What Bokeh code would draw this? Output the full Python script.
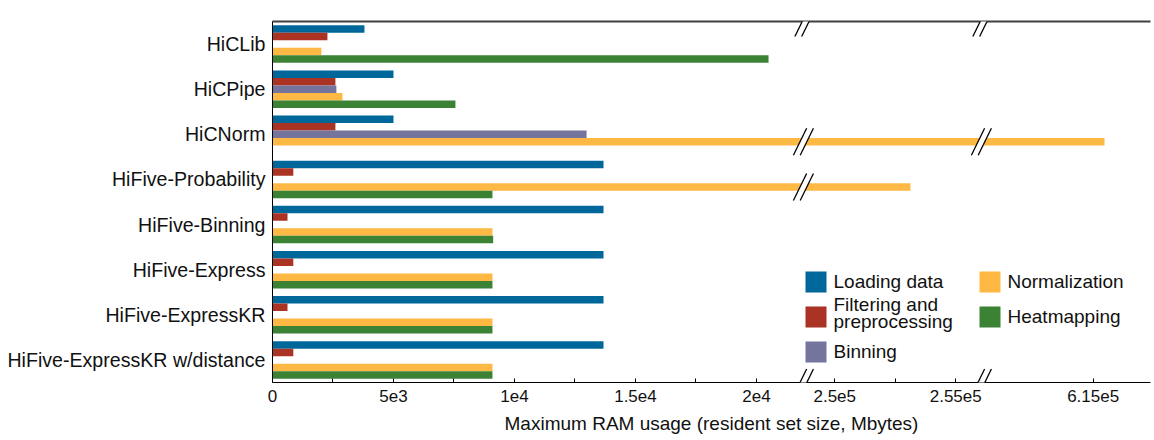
from bokeh.plotting import figure
from bokeh.models import (FactorRange, Range1d, LinearAxis, FixedTicker, CustomJSTransform,
                          PolyAnnotation, Arrow, ColumnDataSource)
from bokeh.transform import dodge, transform
from bokeh.core.properties import value
from bokeh.embed import file_html
from bokeh.resources import INLINE

# ---------------------------------------------------------------- data
categories = ["HiCLib", "HiCPipe", "HiCNorm", "HiFive-Probability", "HiFive-Binning",
              "HiFive-Express", "HiFive-ExpressKR", "HiFive-ExpressKR w/distance"]

series_names = ["Loading data", "Filtering and\npreprocessing", "Binning",
                "Normalization", "Heatmapping"]
series_colors = ["#00679a", "#aa3324", "#74749c", "#fdb944", "#3b8234"]

# maximum resident set size per step, Mbytes (None = step not run)
loading = [3800, 5000, 5000, 13680, 13680, 13680, 13680, 13680]
filtering = [2270, 2600, 2600, 860, 620, 860, 620, 860]
binning = [None, 2640, 12980, None, None, None, None, None]
normalization = [2020, 2890, 615470, 253130, 9090, 9090, 9090, 9090]
heatmapping = [20500, 7560, None, 9090, 9120, 9090, 9090, 9090]
series_values = [loading, filtering, binning, normalization, heatmapping]

# broken x axis: value intervals that are shown next to each other
segments = [(0, 21900), (248665, 256020), (610340, 617370)]

tick_values = [0, 2500, 5000, 7500, 10000, 12500, 15000, 17500, 20000,
               250000, 252500, 255000, 615000]
tick_labels = ["0", "", "5e3", "", "1e4", "", "1.5e4", "", "2e4",
               "2.5e5", "", "2.55e5", "6.15e5"]

# ---------------------------------------------------------------- layout
FONT = "Liberation Sans"
W, H = 1154, 440
LEFT, RIGHT, TOP, BOTTOM = 272, 4, 21, 58
FRAME_W = W - LEFT - RIGHT
FRAME_H = H - TOP - BOTTOM


def to_axis(v):
    """Position of a value on the compressed (broken) axis."""
    acc = 0
    for k, (s, e) in enumerate(segments):
        if v <= e or k == len(segments) - 1:
            return acc + (v - s)
        acc += e - s


axis_end = to_axis(segments[-1][1])
break_positions = []
acc = 0
for s, e in segments[:-1]:
    acc += e - s
    break_positions.append(acc)

broken = CustomJSTransform(
    args=dict(starts=[s for s, _ in segments], ends=[e for _, e in segments]),
    func="""
        let acc = 0
        for (let k = 0; k < starts.length; k++) {
            if (x <= ends[k] || k == starts.length - 1) return acc + (x - starts[k])
            acc += ends[k] - starts[k]
        }
    """,
    v_func="""
        const out = new Array(xs.length)
        for (let i = 0; i < xs.length; i++) {
            const v = xs[i]
            let acc = 0
            for (let k = 0; k < starts.length; k++) {
                if (v <= ends[k] || k == starts.length - 1) { out[i] = acc + (v - starts[k]); break }
                acc += ends[k] - starts[k]
            }
        }
        return out
    """)

p = figure(width=W, height=H, output_backend="svg", toolbar_location=None,
           x_range=Range1d(0, axis_end), y_range=FactorRange(factors=categories[::-1]),
           min_border_left=LEFT, min_border_right=RIGHT,
           min_border_top=TOP, min_border_bottom=BOTTOM)
p.outline_line_color = None
p.xgrid.grid_line_color = None
p.ygrid.grid_line_color = None
p.background_fill_color = "white"
p.border_fill_color = "white"

# helpers to place decorations in pixel terms
KX = axis_end / FRAME_W
KY = len(categories) / FRAME_H


def px_x(px):
    return (px - LEFT) * KX


def px_y(py):
    return (H - BOTTOM - py) * KY


# ---------------------------------------------------------------- bars
n_series = len(series_names)
slot = 1.0 / (n_series + 1)
for j, (vals, color) in enumerate(zip(series_values, series_colors)):
    cats = [c for c, v in zip(categories, vals) if v is not None]
    vs = [v for v in vals if v is not None]
    src = ColumnDataSource(dict(cat=cats, value=vs))
    off = ((n_series - 1) / 2 - j) * slot
    p.hbar(y=dodge("cat", off, range=p.y_range), left=0,
           right=transform("value", broken), height=slot,
           source=src, fill_color=color, line_color=None)

# ---------------------------------------------------------------- axes
xa = p.xaxis[0]
xa.ticker = FixedTicker(ticks=[to_axis(t) for t in tick_values])
xa.major_label_overrides = {to_axis(t): lab for t, lab in zip(tick_values, tick_labels)}
xa.minor_tick_line_color = None
xa.major_tick_in = 4
xa.major_tick_out = 0
xa.major_tick_line_color = "black"
xa.axis_line_color = "black"
xa.axis_line_width = 1.2
xa.major_label_text_font = FONT
xa.major_label_text_font_size = "17px"
xa.major_label_text_color = "#111111"
xa.major_label_standoff = 7
xa.axis_label = "Maximum RAM usage (resident set size, Mbytes)"
xa.axis_label_text_font = FONT
xa.axis_label_text_font_size = "19px"
xa.axis_label_text_font_style = "normal"
xa.axis_label_text_color = "#111111"
xa.axis_label_standoff = 8

ya = p.yaxis[0]
ya.major_tick_line_color = None
ya.minor_tick_line_color = None
ya.major_tick_in = 0
ya.major_tick_out = 0
ya.axis_line_color = "black"
ya.axis_line_width = 1.0
ya.major_label_text_font = FONT
ya.major_label_text_font_size = "19.6px"
ya.major_label_text_color = "#111111"
ya.major_label_standoff = 7

top_axis = LinearAxis(ticker=FixedTicker(ticks=[]), axis_line_color="#404040",
                      axis_line_width=2, major_tick_line_color=None,
                      minor_tick_line_color=None, major_label_text_font_size="0px")
p.add_layout(top_axis, "above")

# ---------------------------------------------------------------- break marks
GAP = 3.4      # half distance between the two strokes, px
LEAN = 0.49    # horizontal run per vertical px


def draw_break(bx, cy_px, half_px):
    cx = LEFT + bx / KX + 1
    dx = LEAN * half_px
    y0, y1 = px_y(cy_px + half_px), px_y(cy_px - half_px)
    band = PolyAnnotation(
        xs=[px_x(cx - GAP - dx), px_x(cx + GAP - dx), px_x(cx + GAP + dx), px_x(cx - GAP + dx)],
        ys=[y0, y0, y1, y1], fill_color="white", fill_alpha=1.0, line_color=None,
        level="overlay")
    p.add_layout(band)
    for o in (-GAP, GAP):
        p.add_layout(Arrow(end=None, x_start=px_x(cx + o - dx), y_start=y0,
                           x_end=px_x(cx + o + dx), y_end=y1,
                           line_color="black", line_width=1.3, level="overlay"))


for k, bx in enumerate(break_positions):
    draw_break(bx, TOP + 4.5, 10.5)
    draw_break(bx, H - BOTTOM, 13.5)
    next_start = segments[k + 1][0]
    for j, vals in enumerate(series_values):
        for i, v in enumerate(vals):
            if v is not None and v >= next_start:
                k_from_bottom = len(categories) - 1 - i
                yc = k_from_bottom + 0.5 + ((n_series - 1) / 2 - j) * slot
                cy_px = H - BOTTOM - yc / KY
                draw_break(bx, cy_px, 13.5)

# ---------------------------------------------------------------- legend
LEG_X = [815.5, 989.5]
LEG_Y0, LEG_DY = 281.5, 35
LEG_TEXT_DX = 17.5
LEG_LINE_SHIFT = 3.5   # two-line labels sit a little higher than their swatch
leg_x, leg_y, leg_tx, leg_ty = [], [], [], []
for j, name in enumerate(series_names):
    col, row = j // 3, j % 3
    sy = LEG_Y0 + row * LEG_DY
    leg_x.append(px_x(LEG_X[col]))
    leg_y.append(px_y(sy))
    leg_tx.append(px_x(LEG_X[col] + LEG_TEXT_DX))
    leg_ty.append(px_y(sy - LEG_LINE_SHIFT * name.count("\n") - 0.5))

p.rect(x=leg_x, y=leg_y, width=21, height=21, width_units="screen",
       height_units="screen", fill_color=series_colors, line_color=None)
p.text(x=leg_tx, y=leg_ty, text=series_names, text_font=value(FONT),
       text_font_size="19px", text_color="#111111", text_baseline="middle",
       text_align="left", text_line_height=0.85)

open("out.html", "w").write(file_html(p, INLINE))
